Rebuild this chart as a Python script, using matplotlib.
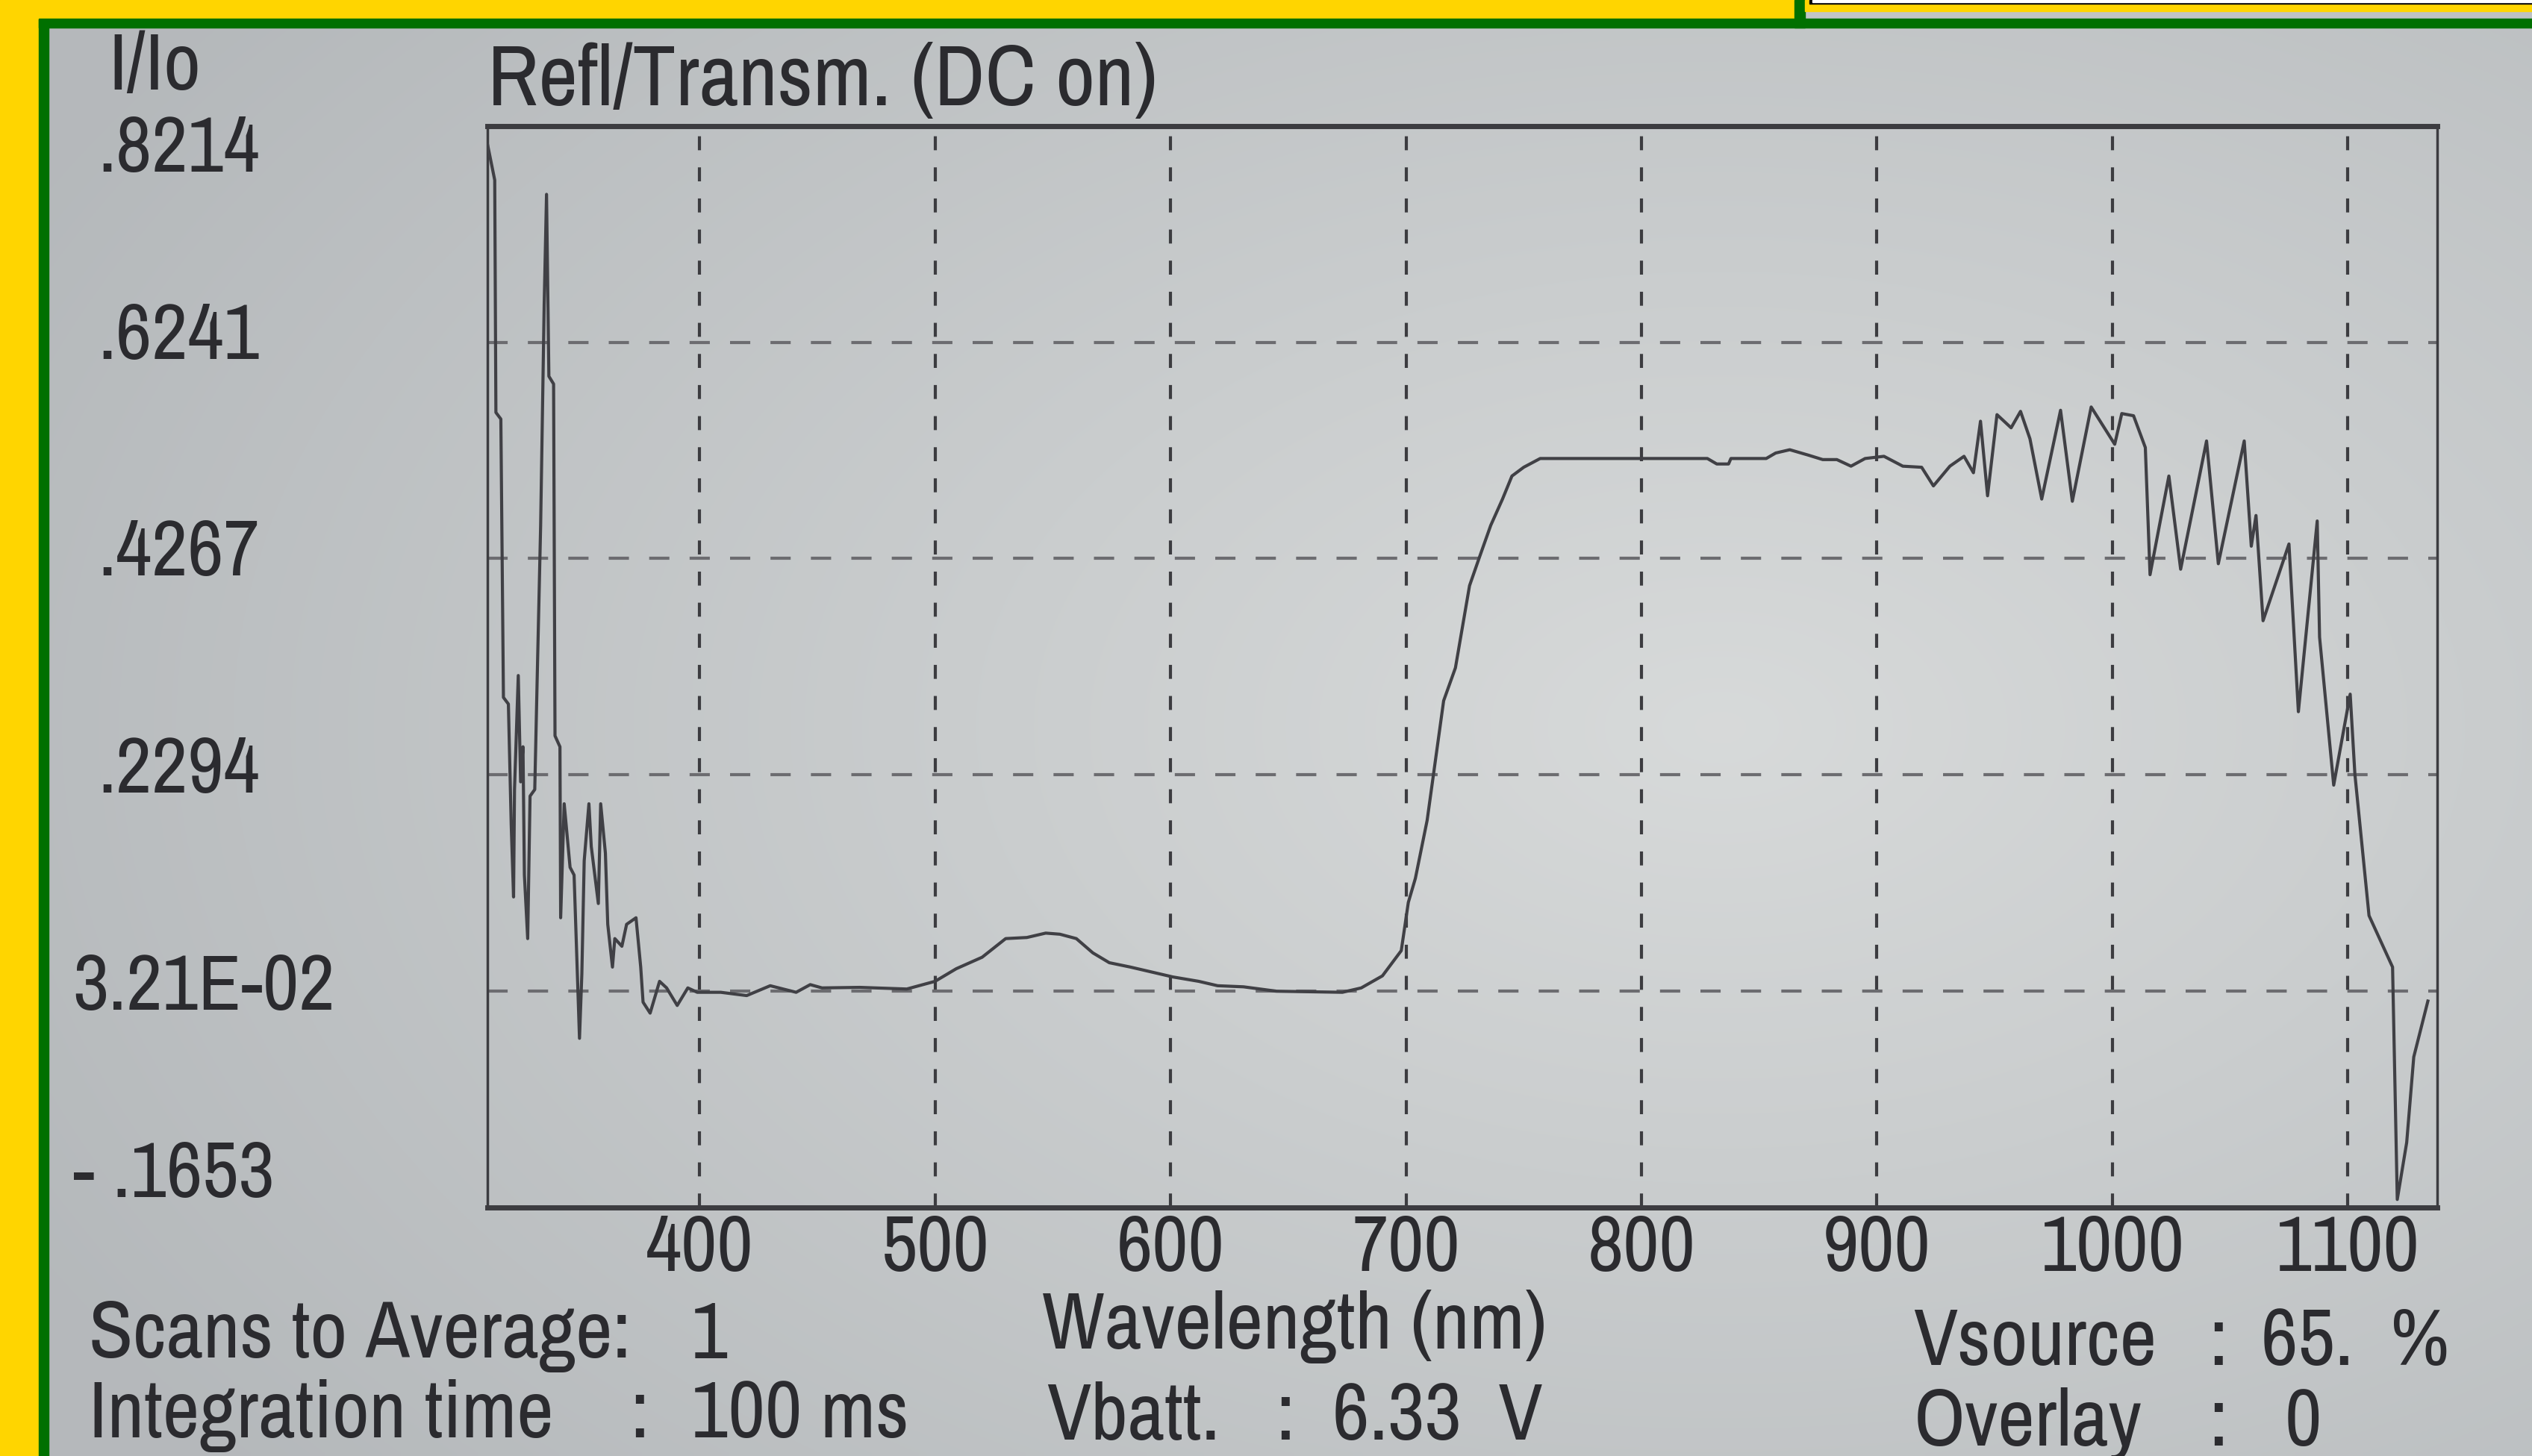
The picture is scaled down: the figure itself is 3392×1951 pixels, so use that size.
import numpy as np
import matplotlib.pyplot as plt
from matplotlib.patches import Rectangle
from matplotlib import font_manager as fm

# spectrum (nm, I/Io)
wavelength = [310, 313, 313.5, 315.6, 316.7, 318.8, 320, 321, 321.4, 323, 324, 325, 325.6,
              327, 328, 330, 331, 332.5, 334, 335, 336, 338, 338.6, 340.7, 341, 342.5, 345,
              346.7, 348, 349, 350, 351, 353, 354, 357, 358, 360, 361, 363, 364, 367, 369,
              373, 375, 376, 379, 383, 386, 390.5, 395, 399, 409, 420, 430, 441, 447, 452,
              468, 488, 500, 509, 520, 530, 539, 547, 553, 560, 567, 574, 583, 591, 601,
              612, 620, 631, 645, 673, 681, 690, 698, 701, 704, 709, 716, 721, 727, 731,
              736, 741, 745, 750, 757, 828, 832, 837, 838, 853, 857, 863, 871, 877, 883,
              889, 895, 903, 911, 919, 924, 931, 937, 941, 944, 947, 951, 957, 961, 965,
              970, 978, 983, 991, 1001, 1004, 1009, 1014, 1016, 1024, 1029, 1040, 1045,
              1056, 1059, 1061, 1064, 1075, 1079, 1087, 1088, 1094, 1101, 1103, 1109,
              1119, 1121, 1125, 1128, 1134]
intensity = [0.804, 0.772, 0.560, 0.554, 0.300, 0.294, 0.184, 0.118, 0.216, 0.320, 0.223,
             0.255, 0.138, 0.080, 0.210, 0.216, 0.314, 0.457, 0.658, 0.759, 0.593, 0.586,
             0.265, 0.255, 0.099, 0.203, 0.145, 0.138, 0.054, -0.011, 0.048, 0.151, 0.203,
             0.164, 0.112, 0.203, 0.158, 0.093, 0.054, 0.080, 0.073, 0.093, 0.099, 0.054,
             0.022, 0.012, 0.041, 0.035, 0.019, 0.035, 0.031, 0.031, 0.028, 0.037, 0.031,
             0.038, 0.035, 0.0355, 0.034, 0.041, 0.0525, 0.063, 0.080, 0.081, 0.085, 0.084,
             0.080, 0.067, 0.058, 0.054, 0.050, 0.045, 0.041, 0.037, 0.036, 0.032, 0.031,
             0.035, 0.046, 0.069, 0.113, 0.135, 0.188, 0.297, 0.327, 0.402, 0.4267, 0.457,
             0.481, 0.502, 0.510, 0.518, 0.518, 0.513, 0.513, 0.518, 0.518, 0.523, 0.526,
             0.521, 0.517, 0.517, 0.511, 0.518, 0.520, 0.511, 0.510, 0.493, 0.511, 0.520,
             0.505, 0.552, 0.484, 0.558, 0.546, 0.561, 0.536, 0.481, 0.562, 0.479, 0.565,
             0.531, 0.559, 0.557, 0.528, 0.412, 0.502, 0.417, 0.534, 0.422, 0.534, 0.438,
             0.466, 0.370, 0.440, 0.287, 0.461, 0.355, 0.220, 0.303, 0.230, 0.101, 0.054,
             -0.158, -0.106, -0.028, 0.023]

x_ticks = [400, 500, 600, 700, 800, 900, 1000, 1100]
y_ticks = [0.8214, 0.6241, 0.4267, 0.2294, 0.0321, -0.1653]
y_labels = ['.8214', '.6241', '.4267', '.2294', '3.21E-02', '- .1653']

# the LCD font is tall and narrow: look for a condensed face, else Liberation Sans
cands = [f for f in fm.fontManager.ttflist
         if ('Narrow' in f.name or f.stretch in ('condensed', 'semi-condensed', 'extra-condensed'))
         and f.style == 'normal' and f.weight in (400, 'normal', 'regular')]
cands.sort(key=lambda f: (0 if 'Liberation' in f.name else 1, f.name))
if cands:
    fname = cands[0].fname
    scale = 1.0
    def fnt(size):
        return fm.FontProperties(fname=fname, size=size * scale)
else:
    scale = 0.84
    def fnt(size):
        return fm.FontProperties(family=['Liberation Sans', 'DejaVu Sans'], size=size * scale)

W, H = 3392, 1951
fig = plt.figure(figsize=(W / 100, H / 100), dpi=100)
fig.patch.set_facecolor('#c4c8ca')
tcol = '#2b2b2f'

# screen glow: lighter in the middle, darker toward the edges
bg = fig.add_axes([0, 0, 1, 1], zorder=-10)
gx, gy = np.meshgrid(np.linspace(0, 1, 400), np.linspace(0, 1, 240))
r = np.sqrt(((gx - 0.68) / 0.75) ** 2 + ((gy - 0.5) / 0.8) ** 2)
shade = np.clip(1 - r, 0, 1)
c0 = np.array([0.71, 0.725, 0.735])
c1 = np.array([0.845, 0.855, 0.855])
img = c0 + (c1 - c0) * shade[..., None]
bg.imshow(img, extent=(0, 1, 0, 1), aspect='auto', interpolation='bilinear')
bg.axis('off')

def rect(x0, y0, x1, y1, c):
    fig.patches.append(Rectangle((x0 / W, 1 - y1 / H), (x1 - x0) / W, (y1 - y0) / H,
                                 transform=fig.transFigure, color=c, zorder=-5))

# frame of the photo
yellow, green = '#ffd500', '#007000'
rect(0, 0, 52, H, yellow)
rect(52, 25, 65, H, green)
rect(0, 0, 2404, 25, yellow)
rect(52, 25, W, 37, green)
rect(2404, 0, 2418, 37, green)
rect(2418, 0, W, 15, yellow)
rect(2424, 0, W, 5, 'black')
rect(2428, 0, W, 3, 'white')

ax = fig.add_axes([0.1926, 0.1707, 0.770, 0.7428])
ax.set_facecolor('none')
ax.plot(wavelength, intensity, color='#404045', lw=3.0, zorder=3)
ax.set_xlim(310, 1138)
ax.set_ylim(-0.1653, 0.8214)

ax.set_xticks(x_ticks)
ax.set_xticklabels([str(v) for v in x_ticks], fontproperties=fnt(76), color=tcol)
ax.set_yticks(y_ticks)
ax.set_yticklabels([])
ax.tick_params(length=0)
ax.tick_params(axis='x', pad=6)
ax.grid(axis='x', color='#3c3c40', lw=3, linestyle=(0, (4.5, 5.5)))
ax.grid(axis='y', color='#6c6c70', lw=3, linestyle=(0, (6.5, 6.5)))
for side, w in [('top', 5), ('bottom', 5), ('left', 2.5), ('right', 2.5)]:
    ax.spines[side].set_linewidth(w)
    ax.spines[side].set_color('#3c3c40')

# y labels sit left-aligned at the screen edge
offsets = [(-376, -23), (-376, 5), (-376, 5), (-376, 4), (-400, 3), (-400, 31)]
for v, lab, (dx, dy) in zip(y_ticks, y_labels, offsets):
    ax.annotate(lab, xy=(0, v), xycoords=('axes fraction', 'data'), xytext=(dx, dy),
                textcoords='offset points', ha='left', va='center', fontproperties=fnt(76),
                color=tcol, annotation_clip=False)

ax.set_title('Refl/Transm. (DC on)', loc='left', fontproperties=fnt(83), color=tcol, pad=20)
ax.set_xlabel('Wavelength (nm)', fontproperties=fnt(78), color=tcol, va='center')
ax.xaxis.set_label_coords(0.414, -0.110)

def ftxt(x, y, s):
    fig.text(x / 1568, 1 - y / 902, s, fontproperties=fnt(78), color=tcol,
             ha='left', va='center')

ftxt(67, 42, 'I/Io')
ftxt(55, 828, 'Scans to Average:')
ftxt(428, 828, '1')
ftxt(55, 877, 'Integration time')
ftxt(390, 877, ':')
ftxt(428, 877, '100 ms')
ftxt(648, 878, 'Vbatt.')
ftxt(790, 878, ':')
ftxt(825, 878, '6.33  V')
ftxt(1185, 832, 'Vsource')
ftxt(1368, 832, ':')
ftxt(1400, 832, '65.  %')
ftxt(1185, 882, 'Overlay')
ftxt(1368, 882, ':')
ftxt(1415, 882, '0')

fig.savefig('out.png', dpi=100, facecolor=fig.get_facecolor())
